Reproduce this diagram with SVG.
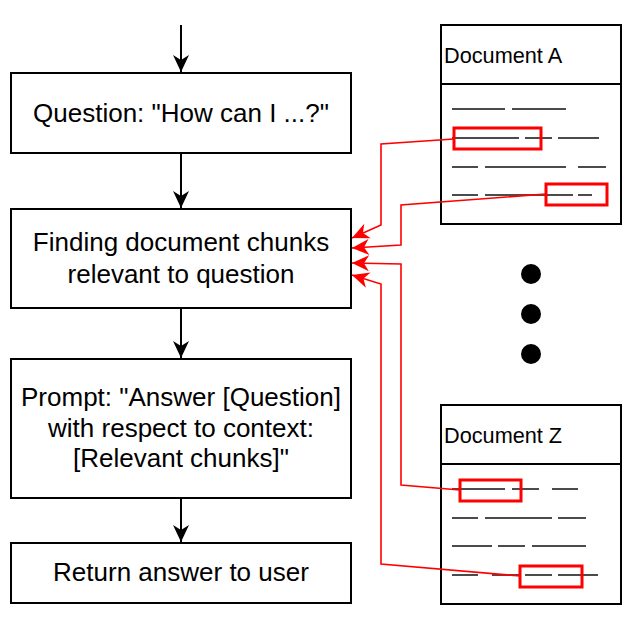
<svg xmlns="http://www.w3.org/2000/svg" width="634" height="618" viewBox="0 0 634 618">
<style>
  .box { fill: #fff; stroke: #000; stroke-width: 2; }
  .lbl { font-family: "Liberation Sans", Arial, sans-serif; font-size: 26px; fill: #000; text-anchor: middle; }
  .doc { font-family: "Liberation Sans", Arial, sans-serif; font-size: 21.7px; fill: #000; }
  .flow { fill: none; stroke: #000; stroke-width: 2; marker-end: url(#ab); }
  .ref { fill: none; stroke: #ff0000; stroke-width: 1.6; marker-end: url(#ar); }
  .hl { fill: none; stroke: #ff0000; stroke-width: 3; }
  .txt { fill: none; stroke: #111; stroke-width: 1.3; }
</style>
<defs>
  <marker id="ab" markerUnits="userSpaceOnUse" viewBox="-18 -9 20 18" refX="0" refY="0" markerWidth="20" markerHeight="18" orient="auto">
    <path d="M0,0 L-17,-8 L-12,0 L-17,8 Z" fill="#000"/>
  </marker>
  <marker id="ar" markerUnits="userSpaceOnUse" viewBox="-18 -9 20 18" refX="0" refY="0" markerWidth="20" markerHeight="18" orient="auto">
    <path d="M0,0 L-17,-8 L-12,0 L-17,8 Z" fill="#ff0000"/>
  </marker>
</defs>
<rect width="634" height="618" fill="#fff"/>

<g id="question">
  <rect class="box" x="11" y="73" width="340" height="80"/>
  <text class="lbl" x="181" y="122">Question: "How can I ...?"</text>
</g>
<g id="finding">
  <rect class="box" x="11" y="209" width="340" height="99"/>
  <text class="lbl" x="181" y="251">Finding document chunks</text>
  <text class="lbl" x="181" y="283">relevant to question</text>
</g>
<g id="prompt">
  <rect class="box" x="11" y="359" width="340" height="139"/>
  <text class="lbl" x="181" y="406">Prompt: "Answer [Question]</text>
  <text class="lbl" x="181" y="437">with respect to context:</text>
  <text class="lbl" x="181" y="467">[Relevant chunks]"</text>
</g>
<g id="return">
  <rect class="box" x="11" y="543" width="340" height="60"/>
  <text class="lbl" x="181" y="581">Return answer to user</text>
</g>

<g id="docA">
  <rect class="box" x="441" y="25" width="180" height="199"/>
  <line x1="441" y1="84" x2="621" y2="84" stroke="#000" stroke-width="2"/>
  <text class="doc" x="444" y="63">Document A</text>
  <path class="txt" d="M452,109H505M512,109H566M452,138H519M525,138H552M558,138H599M452,167H478M485,167H566M578,167H606M452,195H478M485,195H573M578,195H592"/>
  <rect class="hl" x="454" y="128" width="87" height="21"/>
  <rect class="hl" x="546" y="184" width="61" height="21"/>
</g>

<g id="dots">
  <circle cx="531" cy="274" r="10" fill="#000"/>
  <circle cx="531" cy="314" r="10" fill="#000"/>
  <circle cx="531" cy="354" r="10" fill="#000"/>
</g>

<g id="docZ">
  <rect class="box" x="441" y="405" width="180" height="199"/>
  <line x1="441" y1="464" x2="621" y2="464" stroke="#000" stroke-width="2"/>
  <text class="doc" x="444" y="443">Document Z</text>
  <path class="txt" d="M452,489H505M512,489H539M552,489H578M452,518H478M485,518H552M558,518H586M452,546H492M498,546H525M532,546H586M452,575H478M492,575H519M525,575H552M558,575H598"/>
  <rect class="hl" x="460" y="480" width="61" height="21"/>
  <rect class="hl" x="520" y="566" width="62" height="21"/>
</g>

<g id="connectors">
  <path class="flow" d="M181,25V72"/>
  <path class="flow" d="M181,153V208"/>
  <path class="flow" d="M181,308V358"/>
  <path class="flow" d="M181,498V542"/>
  <path class="ref" d="M454,139L381,144L381,225L352,238"/>
  <path class="ref" d="M546,194L401,205L401,245L352,248"/>
  <path class="ref" d="M460,490L401,485L401,264L352,263"/>
  <path class="ref" d="M520,576L381,564L381,284L352,275"/>
</g>
</svg>
